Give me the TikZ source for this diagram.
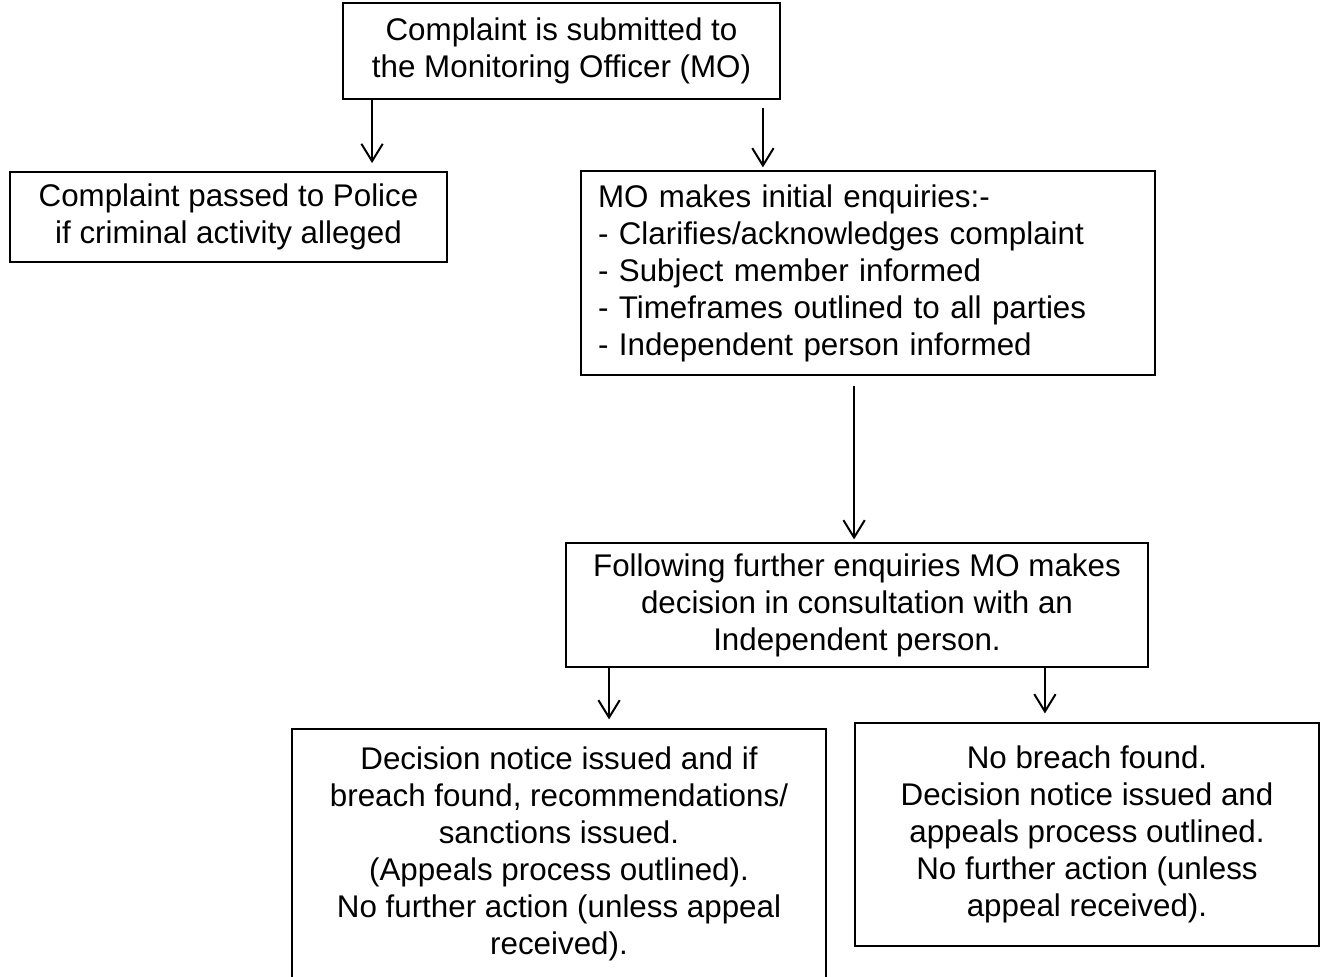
\documentclass[tikz,border=0pt]{standalone}
\usepackage{fontspec}
\setmainfont{Liberation Sans}
\usetikzlibrary{arrows.meta}

\begin{document}
\begin{tikzpicture}[x=0.75pt,y=0.75pt,yscale=-1,xscale=1,
  stagebox/.style={draw,line width=1.4pt,inner sep=0pt,align=center,font=\fontsize{23.5}{27.75}\selectfont},
  flowarrow/.style={line width=1.5pt,-{Straight Barb[length=13pt,width=16pt]}}]
\useasboundingbox (0,0) rectangle (1331,977);
\clip (0,0) rectangle (1331,977);

%Shape: Rectangle [submitted]
\node[stagebox,minimum width=327.75pt,minimum height=72pt] (submit) at (561.5,51) {Complaint is submitted to\\the Monitoring Officer (MO)};
%Shape: Rectangle [police]
\node[stagebox,minimum width=327.75pt,minimum height=67.5pt] (police) at (228.5,217) {Complaint passed to Police\\if criminal activity alleged};
%Shape: Rectangle [initial enquiries]
\node[stagebox,align=left,text width=405pt,inner xsep=12.75pt,minimum height=153pt] (enquiry) at (868,273) {MO makes initial enquiries:-\\- Clarifies/acknowledges complaint\\- Subject member informed\\- Timeframes outlined to all parties\\- Independent person informed};
%Shape: Rectangle [decision]
\node[stagebox,minimum width=436.5pt,minimum height=93pt] (decision) at (857,605) {Following further enquiries MO makes\\decision in consultation with an\\Independent person.};
%Shape: Rectangle [breach, runs off the page]
\node[stagebox,minimum width=400.5pt,minimum height=187.5pt] (breach) at (559,854) {Decision notice issued and if\\breach found, recommendations/\\sanctions issued.\\(Appeals process outlined).\\No further action (unless appeal\\received).};
%Shape: Rectangle [no breach]
\node[stagebox,minimum width=348pt,minimum height=167.25pt] (nobreach) at (1087,834.5) {No breach found.\\Decision notice issued and\\appeals process outlined.\\No further action (unless\\appeal received).};

%Straight Lines
\draw[flowarrow,shorten >=6pt] ([xshift=22.5pt]submit.south west) -- ([xshift=22.5pt]submit.south west |- police.north);
\draw[flowarrow,shorten <=6pt,shorten >=2pt] ([xshift=-13.5pt]submit.south east) -- ([xshift=-13.5pt]submit.south east |- enquiry.north);
\draw[flowarrow,shorten <=7.5pt,shorten >=2pt] ([xshift=205.5pt]enquiry.south west) -- ([xshift=205.5pt]enquiry.south west |- decision.north);
\draw[flowarrow,shorten >=6.5pt] ([xshift=33pt]decision.south west) -- ([xshift=33pt]decision.south west |- breach.north);
\draw[flowarrow,shorten >=6.5pt] ([xshift=-78pt]decision.south east) -- ([xshift=-78pt]decision.south east |- nobreach.north);

\end{tikzpicture}
\end{document}
